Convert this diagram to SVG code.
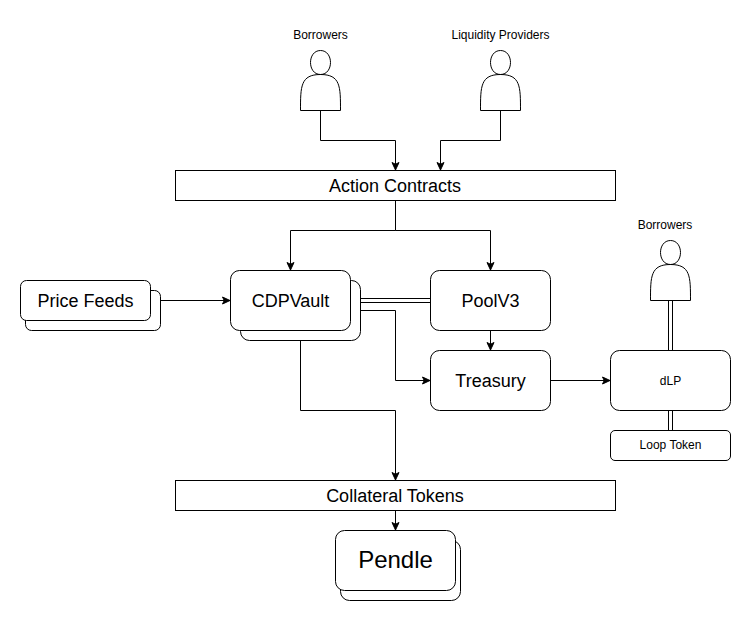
<svg xmlns="http://www.w3.org/2000/svg" width="751" height="621" viewBox="0 0 751 621">
<style>
.s{fill:#fff;stroke:#000;stroke-width:1}
.c{fill:none;stroke:#000;stroke-width:1;stroke-miterlimit:10}
.a{marker-end:url(#arrow)}
text{font-family:"Liberation Sans",Arial,sans-serif;fill:#000;text-anchor:middle}
.t12{font-size:12px}.t18{font-size:18px}.t24{font-size:24px}
</style>
<defs>
<marker id="arrow" markerUnits="userSpaceOnUse" markerWidth="12" markerHeight="12" refX="9" refY="6" orient="auto" overflow="visible">
<path d="M1 2.5L8.5 6L1 9.5L2.75 6Z" fill="#000" stroke="#000" stroke-width="1"/>
</marker>
<path id="actor" d="M0 60C0 36 0 24 20 24C6.67 24 6.67 0 20 0C33.33 0 33.33 24 20 24C40 24 40 36 40 60Z"/>
</defs>
<rect width="751" height="621" fill="#fff"/>
<g id="connectors">
<path class="c a" d="M320.5 110.5V140.5H395.5V170.5"/>
<path class="c a" d="M500.5 110.5V140.5H440.5V170.5"/>
<path class="c a" d="M395.5 200.5V230.5H290.5V270.5"/>
<path class="c a" d="M395.5 200.5V230.5H490.5V270.5"/>
<path class="c a" d="M160.5 300.5H230.5"/>
<path class="c" d="M350.5 298.5H430.5M350.5 302.5H430.5"/>
<path class="c a" d="M360.5 310.5H395.5V380.5H430.5"/>
<path class="c a" d="M490.5 330.5V350.5"/>
<path class="c a" d="M550.5 380.5H610.5"/>
<path class="c" d="M668.5 300.5V350.5M672.5 300.5V350.5"/>
<path class="c" d="M668.5 410.5V430.5M672.5 410.5V430.5"/>
<path class="c a" d="M300.5 340.5V410.5H395.5V480.5"/>
<path class="c a" d="M395.5 510.5V530.5"/>
</g>
<g id="borrowers-top"><use href="#actor" class="s" x="300.5" y="50.5"/><text class="t12" x="320.5" y="39">Borrowers</text></g>
<g id="liquidity-providers"><use href="#actor" class="s" x="480.5" y="50.5"/><text class="t12" x="500.5" y="39">Liquidity Providers</text></g>
<g id="borrowers-right"><use href="#actor" class="s" x="650.5" y="240.5"/><text class="t12" x="665" y="229">Borrowers</text></g>
<g id="action-contracts"><rect class="s" x="175.5" y="170.5" width="440" height="30"/><text class="t18" x="395" y="192">Action Contracts</text></g>
<g id="price-feeds"><rect class="s" x="25.5" y="290.5" width="135" height="40" rx="6"/><rect class="s" x="20.5" y="280.5" width="130" height="40" rx="6"/><text class="t18" x="85.5" y="307">Price Feeds</text></g>
<g id="cdp-vault"><rect class="s" x="240.5" y="280.5" width="120" height="60" rx="9"/><rect class="s" x="230.5" y="270.5" width="120" height="60" rx="9"/><text class="t18" x="290.5" y="307">CDPVault</text></g>
<g id="pool-v3"><rect class="s" x="430.5" y="270.5" width="120" height="60" rx="9"/><text class="t18" x="490.5" y="307">PoolV3</text></g>
<g id="treasury"><rect class="s" x="430.5" y="350.5" width="120" height="60" rx="9"/><text class="t18" x="490.5" y="387">Treasury</text></g>
<g id="dlp"><rect class="s" x="610.5" y="350.5" width="120" height="60" rx="9"/><text class="t12" x="670.5" y="384.5">dLP</text></g>
<g id="loop-token"><rect class="s" x="610.5" y="430.5" width="120" height="30" rx="4.5"/><text class="t12" x="670.5" y="449">Loop Token</text></g>
<g id="collateral-tokens"><rect class="s" x="175.5" y="480.5" width="440" height="30"/><text class="t18" x="395" y="502">Collateral Tokens</text></g>
<g id="pendle"><rect class="s" x="340.5" y="540.5" width="120" height="60" rx="9"/><rect class="s" x="335.5" y="530.5" width="120" height="60" rx="9"/><text class="t24" x="395.5" y="568">Pendle</text></g>
</svg>
